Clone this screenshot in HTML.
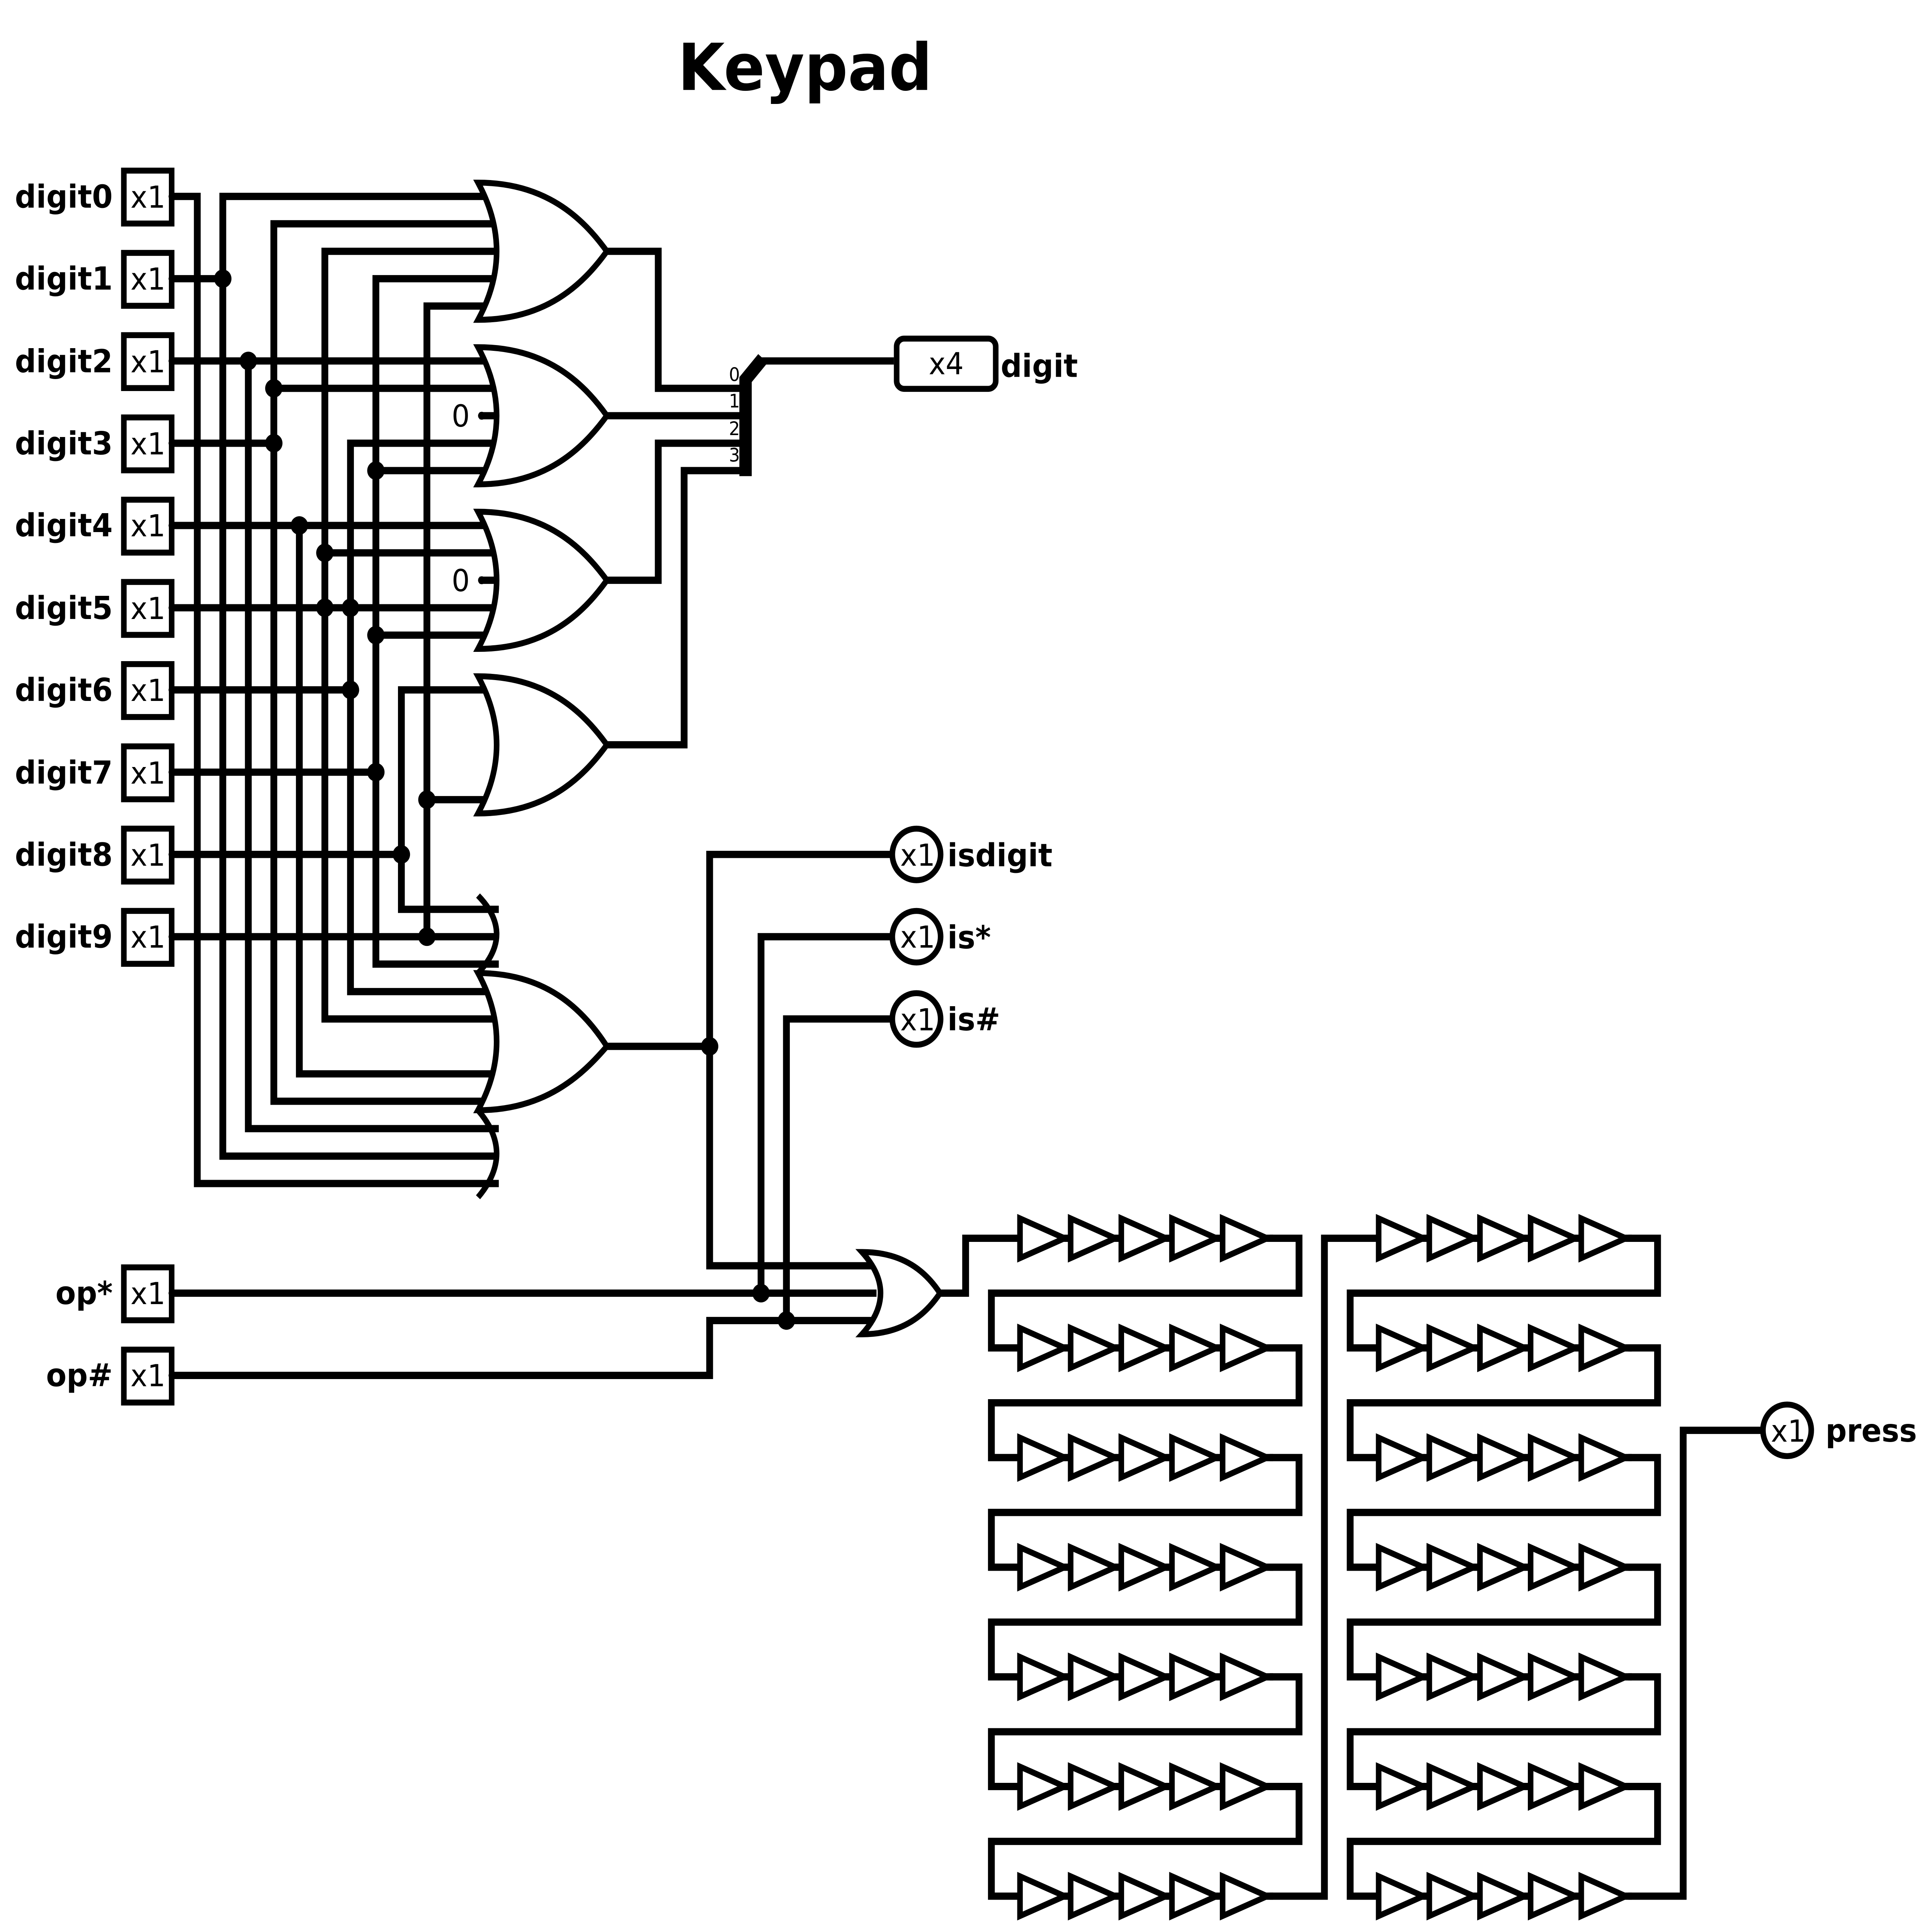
<!DOCTYPE html>
<html><head><meta charset="utf-8"><style>
html,body{margin:0;padding:0;background:#fff;width:100%;height:100%;overflow:hidden;}
svg{display:block;position:fixed;left:0;top:0;width:100vw;height:100vh;}
text{font-family:"DejaVu Sans","Liberation Sans",sans-serif;fill:#000;}
.b{font-weight:bold;font-size:24px;}
.n{font-size:23px;}
</style></head><body>
<svg xmlns="http://www.w3.org/2000/svg" viewBox="0 0 1560 1460.7" preserveAspectRatio="none">
<rect width="1560" height="1460.7" fill="#fff"/>
<defs>
<g id="brow">
<path d="M0 0H204.4" stroke="#000" stroke-width="5.5" fill="none"/>
<g fill="#fff" stroke="#000" stroke-width="4.5" stroke-linejoin="miter">
<path d="M0 -15V15L36 0Z"/>
<path d="M40.9 -15V15L76.9 0Z"/>
<path d="M81.8 -15V15L117.8 0Z"/>
<path d="M122.7 -15V15L158.7 0Z"/>
<path d="M163.6 -15V15L199.6 0Z"/>
</g>
<circle cx="204.4" cy="0" r="2.5"/>
</g>
</defs>

<text x="650" y="68" text-anchor="middle" style="font-weight:bold;font-size:49px">Keypad</text>

<g stroke="#000" stroke-width="5.5" fill="none" stroke-linejoin="miter" stroke-linecap="square">
<path d="M138.6 148.5H159.3V894.8H400"/>
<path d="M138.6 210.7H179.9"/>
<path d="M179.9 148.5V874.1H400 M179.9 148.5H400"/>
<path d="M138.6 272.9H400"/>
<path d="M200.5 272.9V853.3H400"/>
<path d="M221.1 169.2H400 M221.1 169.2V832.6H400 M221.1 293.6H400"/>
<path d="M138.6 335.1H221.1"/>
<path d="M138.6 397.3H400"/>
<path d="M241.7 397.3V811.9H400"/>
<path d="M262.3 190H400 M262.3 190V770.4H400 M262.3 418H400"/>
<path d="M138.6 459.5H400"/>
<path d="M283 335.1H400 M283 335.1V749.7H400"/>
<path d="M138.6 521.6H283"/>
<path d="M303.5 210.7H400 M303.5 210.7V728.9H400 M303.5 355.8H400 M303.5 480.2H400"/>
<path d="M138.6 583.8H303.5"/>
<path d="M324.1 521.6H400 M324.1 521.6V687.5H400"/>
<path d="M138.6 646H324.1"/>
<path d="M344.7 231.4H400 M344.7 231.4V708.2 M344.7 604.6H400"/>
<path d="M138.6 708.2H400"/>
<path d="M390 314.3H400 M390 438.7H400"/>
<path d="M490 190H531.5V293.6H600"/>
<path d="M490 314.3H600"/>
<path d="M490 438.7H531.5V335.1H600"/>
<path d="M490 563.1H552.4V355.8H600"/>
<path d="M615 272.9H719"/>
<path d="M490 791.1H573"/>
<path d="M719 646H573V957H705"/>
<path d="M719 708.2H614.5V977.7"/>
<path d="M719 770.4H635V998.4"/>
<path d="M138.6 977.7H705"/>
<path d="M138.6 1039.9H573V998.4H705"/>
<path d="M759 977.7H779.7V936.2H823.6"/>
<path d="M1028 936.2H1048.9V977.7H800.5V1019.1H823.6 M1028 1019.1H1048.9V1060.6H800.5V1102H823.6 M1028 1102H1048.9V1143.5H800.5V1184.9H823.6 M1028 1184.9H1048.9V1226.4H800.5V1267.8H823.6 M1028 1267.8H1048.9V1309.3H800.5V1350.7H823.6 M1028 1350.7H1048.9V1392.2H800.5V1433.6H823.6 M1028 1433.6H1069.4V936.2H1113.2"/>
<path d="M1317.6 936.2H1338.4V977.7H1090.2V1019.1H1113.2 M1317.6 1019.1H1338.4V1060.6H1090.2V1102H1113.2 M1317.6 1102H1338.4V1143.5H1090.2V1184.9H1113.2 M1317.6 1184.9H1338.4V1226.4H1090.2V1267.8H1113.2 M1317.6 1267.8H1338.4V1309.3H1090.2V1350.7H1113.2 M1317.6 1350.7H1338.4V1392.2H1090.2V1433.6H1113.2 M1317.6 1433.6H1359.1V1081.4H1422"/>
</g>
<path d="M602 360V287L616 271" stroke="#000" stroke-width="10" fill="none"/>
<text x="593" y="288" text-anchor="middle" style="font-size:14px">0</text>
<text x="593" y="308" text-anchor="middle" style="font-size:14px">1</text>
<text x="593" y="329" text-anchor="middle" style="font-size:14px">2</text>
<text x="593" y="349" text-anchor="middle" style="font-size:14px">3</text>
<g>
<circle cx="576" cy="293.6" r="2.5"/><circle cx="576" cy="314.3" r="2.5"/><circle cx="576" cy="335.1" r="2.5"/><circle cx="576" cy="355.8" r="2.5"/>
</g>

<g fill="#fff" stroke="#000" stroke-width="4.5" stroke-linejoin="miter">
<path d="M386 138.1Q416 190 386 241.8C440 241.8 470 216 490 190C470 164 440 138.1 386 138.1Z"/>
<path d="M386 262.5Q416 314.3 386 366.2C440 366.2 470 340 490 314.3C470 288 440 262.5 386 262.5Z"/>
<path d="M386 386.9Q416 438.7 386 490.6C440 490.6 470 465 490 438.7C470 413 440 386.9 386 386.9Z"/>
<path d="M386 511.3Q416 563.1 386 615C440 615 470 589 490 563.1C470 537 440 511.3 386 511.3Z"/>
<path d="M386 735.7Q416 787.6 386 839.4C440 839.4 470 813 490 791.1C470 762 440 735.7 386 735.7Z"/>
<path d="M386 677.1Q416 706 386 735.7" fill="none"/>
<path d="M386 839.4Q416 872 386 905.2" fill="none"/>
<path d="M696 946.6Q726 977.7 696 1008.8C730 1008.8 748 993 759 977.7C748 962 730 946.6 696 946.6Z"/>
</g>
<text x="372" y="322.5" class="n" text-anchor="middle">0</text>
<text x="372" y="447" class="n" text-anchor="middle">0</text>
<circle cx="389" cy="314.3" r="3"/><circle cx="389" cy="438.7" r="3"/>

<g>
<circle cx="179.9" cy="210.7" r="7"/>
<circle cx="200.5" cy="272.9" r="7"/>
<circle cx="221.1" cy="293.6" r="7"/><circle cx="221.1" cy="335.1" r="7"/>
<circle cx="241.7" cy="397.3" r="7"/>
<circle cx="262.3" cy="418" r="7"/><circle cx="262.3" cy="459.5" r="7"/>
<circle cx="283" cy="459.5" r="7"/><circle cx="283" cy="521.6" r="7"/>
<circle cx="303.5" cy="355.8" r="7"/><circle cx="303.5" cy="480.2" r="7"/><circle cx="303.5" cy="583.8" r="7"/>
<circle cx="324.1" cy="646" r="7"/>
<circle cx="344.7" cy="604.6" r="7"/><circle cx="344.7" cy="708.2" r="7"/>
<circle cx="573" cy="791.1" r="7"/>
<circle cx="614.5" cy="977.7" r="7"/>
<circle cx="635" cy="998.4" r="7"/>
</g>

<use href="#brow" transform="translate(823.6 936.2)"/>
<use href="#brow" transform="translate(823.6 1019.1)"/>
<use href="#brow" transform="translate(823.6 1102)"/>
<use href="#brow" transform="translate(823.6 1184.9)"/>
<use href="#brow" transform="translate(823.6 1267.8)"/>
<use href="#brow" transform="translate(823.6 1350.7)"/>
<use href="#brow" transform="translate(823.6 1433.6)"/>
<use href="#brow" transform="translate(1113.2 936.2)"/>
<use href="#brow" transform="translate(1113.2 1019.1)"/>
<use href="#brow" transform="translate(1113.2 1102)"/>
<use href="#brow" transform="translate(1113.2 1184.9)"/>
<use href="#brow" transform="translate(1113.2 1267.8)"/>
<use href="#brow" transform="translate(1113.2 1350.7)"/>
<use href="#brow" transform="translate(1113.2 1433.6)"/>

<g fill="#fff" stroke="#000" stroke-width="4.5">
<rect x="100" y="129" width="38.6" height="40"/>
<rect x="100" y="191.2" width="38.6" height="40"/>
<rect x="100" y="253.4" width="38.6" height="40"/>
<rect x="100" y="315.6" width="38.6" height="40"/>
<rect x="100" y="377.8" width="38.6" height="40"/>
<rect x="100" y="440" width="38.6" height="40"/>
<rect x="100" y="502.1" width="38.6" height="40"/>
<rect x="100" y="564.3" width="38.6" height="40"/>
<rect x="100" y="626.5" width="38.6" height="40"/>
<rect x="100" y="688.7" width="38.6" height="40"/>
<rect x="100" y="958.2" width="38.6" height="40"/>
<rect x="100" y="1020.4" width="38.6" height="40"/>
<rect x="724" y="256" width="80" height="38" rx="6"/>
<circle cx="740" cy="646" r="19.5"/>
<circle cx="740" cy="708.2" r="19.5"/>
<circle cx="740" cy="770.4" r="19.5"/>
<circle cx="1443" cy="1081.4" r="19.5"/>
</g>
<g text-anchor="middle">
<text x="119.5" y="157" class="n">x1</text>
<text x="119.5" y="219" class="n">x1</text>
<text x="119.5" y="281.5" class="n">x1</text>
<text x="119.5" y="343.5" class="n">x1</text>
<text x="119.5" y="405.5" class="n">x1</text>
<text x="119.5" y="468" class="n">x1</text>
<text x="119.5" y="530" class="n">x1</text>
<text x="119.5" y="592.5" class="n">x1</text>
<text x="119.5" y="654.5" class="n">x1</text>
<text x="119.5" y="716.5" class="n">x1</text>
<text x="119.5" y="986" class="n">x1</text>
<text x="119.5" y="1048" class="n">x1</text>
<text x="764" y="283" class="n">x4</text>
<text x="741" y="654.5" class="n">x1</text>
<text x="741" y="716.5" class="n">x1</text>
<text x="741" y="779" class="n">x1</text>
<text x="1444" y="1090" class="n">x1</text>
</g>
<g>
<circle cx="138.6" cy="148.5" r="2.5"/><circle cx="138.6" cy="210.7" r="2.5"/><circle cx="138.6" cy="272.9" r="2.5"/><circle cx="138.6" cy="335.1" r="2.5"/><circle cx="138.6" cy="397.3" r="2.5"/><circle cx="138.6" cy="459.5" r="2.5"/><circle cx="138.6" cy="521.6" r="2.5"/><circle cx="138.6" cy="583.8" r="2.5"/><circle cx="138.6" cy="646" r="2.5"/><circle cx="138.6" cy="708.2" r="2.5"/><circle cx="138.6" cy="977.7" r="2.5"/><circle cx="138.6" cy="1039.9" r="2.5"/>
</g>
<g text-anchor="end">
<text x="91" y="157" class="b">digit0</text>
<text x="91" y="219" class="b">digit1</text>
<text x="91" y="281.5" class="b">digit2</text>
<text x="91" y="343.5" class="b">digit3</text>
<text x="91" y="405.5" class="b">digit4</text>
<text x="91" y="468" class="b">digit5</text>
<text x="91" y="530" class="b">digit6</text>
<text x="91" y="592.5" class="b">digit7</text>
<text x="91" y="654.5" class="b">digit8</text>
<text x="91" y="716.5" class="b">digit9</text>
<text x="91" y="986" class="b">op*</text>
<text x="91" y="1048" class="b">op#</text>
</g>
<text x="808" y="285" class="b">digit</text>
<text x="765" y="655" class="b">isdigit</text>
<text x="765" y="717" class="b">is*</text>
<text x="765" y="779" class="b">is#</text>
<text x="1474" y="1090" class="b">press</text>
</svg>
</body></html>
